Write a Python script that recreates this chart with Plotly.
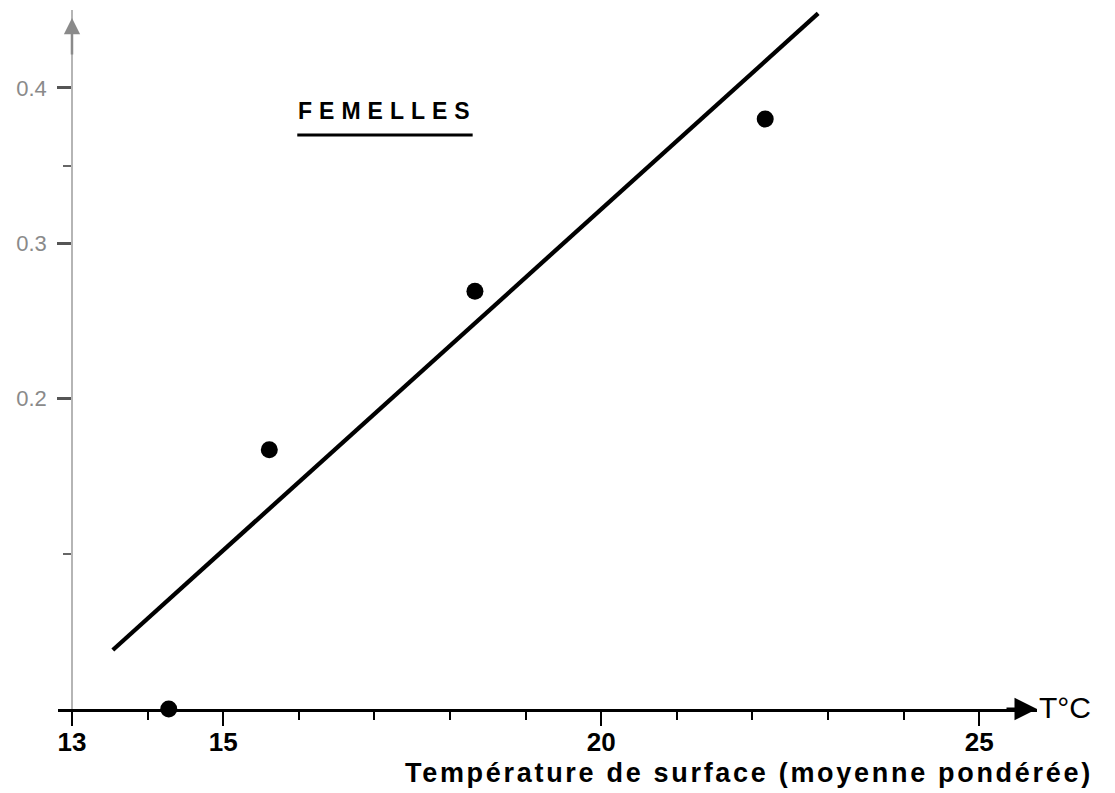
import plotly.graph_objects as go

# ---- data ----
temp_pts = [14.28, 15.61, 18.33, 22.17]          # Température de surface (°C)
val_pts = [0.0, 0.167, 0.269, 0.380]             # observed values (femelles)
fit_temp = [13.54, 22.87]                        # fitted line end points (x)
fit_val = [0.038, 0.448]                         # fitted line end points (y)

x_major = [13, 15, 20, 25]
x_major_labels = ["13", "15", "20", "25"]
x_minor = [14, 16, 17, 18, 19, 21, 22, 23, 24]
y_major = [0.2, 0.3, 0.4]
y_major_labels = ["0.2", "0.3", "0.4"]
y_minor = [0.1, 0.35]

# ---- layout geometry (page body adds an 8px offset) ----
W, H = 1107, 785
L, R, T, B = 50, 78, 2, 84
x_range = [12.815, 25.765]
y_range = [0.0, 0.4502]
y_axis_pos = (13 - x_range[0]) / (x_range[1] - x_range[0])

FONT = "Liberation Sans, Arial, sans-serif"

fig = go.Figure()

fig.add_trace(go.Scatter(
    x=fit_temp, y=fit_val, mode="lines",
    line=dict(color="black", width=4.3),
    showlegend=False, hoverinfo="skip", cliponaxis=False,
))
fig.add_trace(go.Scatter(
    x=temp_pts, y=val_pts, mode="markers",
    marker=dict(color="black", size=17),
    showlegend=False, cliponaxis=False,
))

fig.update_layout(
    width=W, height=H,
    margin=dict(l=L, r=R, t=T, b=B),
    paper_bgcolor="white", plot_bgcolor="white",
    font=dict(family=FONT, color="black"),
    xaxis=dict(
        range=x_range, showgrid=False, zeroline=False,
        showline=True, linecolor="black", linewidth=2.5,
        layer="below traces",
        tickmode="array", tickvals=x_major, ticktext=x_major_labels,
        ticks="outside", ticklen=14, tickwidth=2, tickcolor="black",
        ticklabelstandoff=-6,
        tickfont=dict(family=FONT, size=26, color="black", weight="bold"),
        minor=dict(tickmode="array", tickvals=x_minor, ticks="outside",
                   ticklen=8, tickwidth=2, tickcolor="black", showgrid=False),
    ),
    yaxis=dict(
        range=y_range, showgrid=False, zeroline=False,
        anchor="free", position=y_axis_pos, side="left",
        showline=True, linecolor="#b5b5b5", linewidth=1.6,
        layer="below traces",
        tickmode="array", tickvals=y_major, ticktext=y_major_labels,
        ticks="outside", ticklen=14, tickwidth=2.5, tickcolor="#555",
        ticklabelstandoff=6,
        tickfont=dict(family=FONT, size=22, color="#8a8a8a"),
        minor=dict(tickmode="array", tickvals=y_minor, ticks="outside",
                   ticklen=8, tickwidth=2, tickcolor="#666", showgrid=False),
    ),
)

# arrow at the end of the x axis + unit label
fig.add_annotation(
    x=x_range[1], y=0, xref="x", yref="y", text="",
    showarrow=True, ax=-32, ay=0, arrowhead=2, arrowsize=1.5,
    arrowwidth=3, arrowcolor="black", standoff=0,
)
fig.add_annotation(
    x=x_range[1], y=0, xref="x", yref="y", text="T°C",
    showarrow=False, xanchor="left", yanchor="middle", xshift=0, yshift=2,
    font=dict(family=FONT, size=30, color="black"),
)

# arrow at the top of the y axis
fig.add_annotation(
    x=13, y=0.445, xref="x", yref="y", text="",
    showarrow=True, ax=0, ay=38, arrowhead=2, arrowsize=1.3,
    arrowwidth=2.5, arrowcolor="#8a8a8a", standoff=0,
)

# x axis title
fig.add_annotation(
    x=(741 - L) / (W - L - R), y=0, xref="paper", yref="paper",
    text='<span style="letter-spacing:2.7px">Température de surface (moyenne pondérée)</span>',
    showarrow=False, xanchor="center", yanchor="middle", yshift=-64,
    font=dict(family=FONT, size=27, color="black", weight="bold"),
)

# panel label
fig.add_annotation(
    x=17.14, y=0.385, xref="x", yref="y",
    text='<span style="letter-spacing:7px">FEMELLES</span>',
    showarrow=False, xanchor="center", yanchor="middle", xshift=3,
    font=dict(family=FONT, size=23, color="black", weight="bold"),
)
fig.add_shape(
    type="line", xref="x", yref="y",
    x0=15.98, x1=18.30, y0=0.3697, y1=0.3697,
    line=dict(color="black", width=3),
)

fig.write_html("out.html")
